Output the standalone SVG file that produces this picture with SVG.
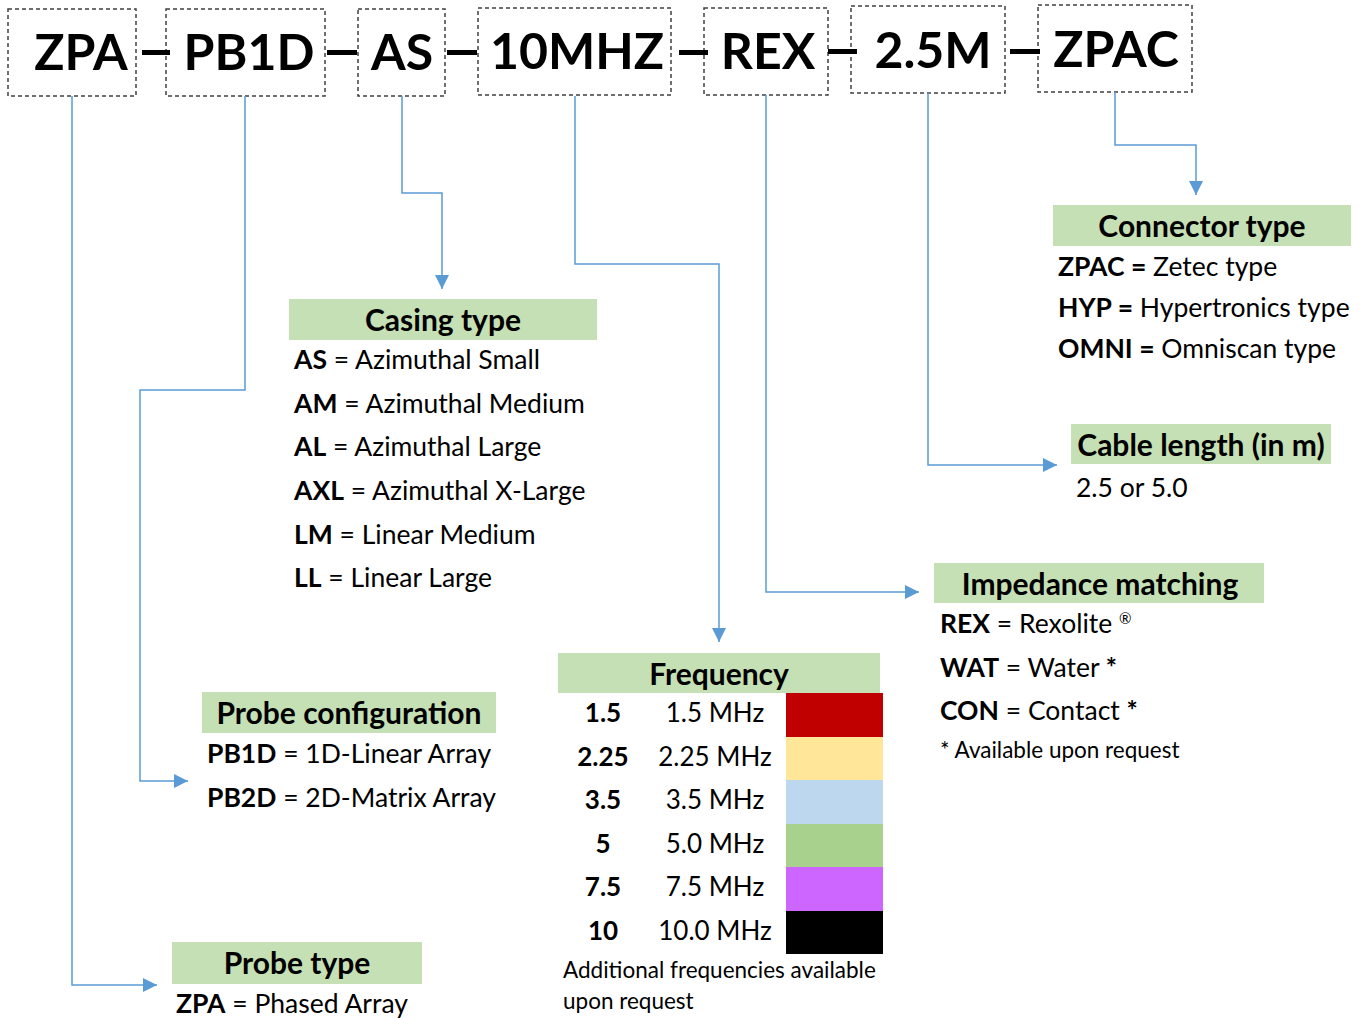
<svg xmlns="http://www.w3.org/2000/svg" width="1361" height="1019" viewBox="0 0 1361 1019">
<defs>
<marker id="arr" markerWidth="14" markerHeight="14" refX="14" refY="7" orient="auto" markerUnits="userSpaceOnUse">
<path d="M0,0 L14,7 L0,14 Z" fill="#5B9BD5"/>
</marker>
<style>
text{font-family:Lato,"Open Sans","Liberation Sans",sans-serif;fill:#000}
.code{font-size:50px;font-weight:700;text-anchor:middle}
.dash{fill:#000}
.box{fill:none;stroke:#404040;stroke-width:1.5;stroke-dasharray:4 3}
.hdr{fill:#C5E0B4}
.ttl{font-size:30px;font-weight:700;text-anchor:middle}
.body{font-size:26.5px}
.b{font-weight:700}
.small{font-size:22.5px}
.conn{fill:none;stroke:#5B9BD5;stroke-width:1.5;marker-end:url(#arr)}
.fb{font-size:26px;font-weight:700;text-anchor:middle}
.fm{font-size:26px;text-anchor:middle}
</style>
</defs>
<rect width="1361" height="1019" fill="#fff"/>

<g id="code">
<g id="box-zpa"><rect class="box" x="8" y="9" width="128" height="87"/><text class="code" x="81" y="70">ZPA</text></g>
<g id="box-pb1d"><rect class="box" x="166" y="9" width="159" height="87"/><text class="code" x="249" y="70">PB1D</text></g>
<g id="box-as"><rect class="box" x="358" y="9" width="87" height="87"/><text class="code" x="402" y="70">AS</text></g>
<g id="box-10mhz"><rect class="box" x="478" y="8" width="193" height="87"/><text class="code" x="577" y="69">10MHZ</text></g>
<g id="box-rex"><rect class="box" x="704" y="8" width="124" height="87"/><text class="code" x="768" y="69">REX</text></g>
<g id="box-25m"><rect class="box" x="851" y="6" width="154" height="87"/><text class="code" x="933" y="68">2.5M</text></g>
<g id="box-zpac"><rect class="box" x="1038" y="5" width="154" height="87"/><text class="code" x="1116" y="67">ZPAC</text></g>
<g id="dashes">
<rect class="dash" x="142" y="50" width="28" height="5"/>
<rect class="dash" x="327" y="50" width="30" height="5"/>
<rect class="dash" x="447" y="50" width="30" height="5"/>
<rect class="dash" x="679" y="50" width="29" height="5"/>
<rect class="dash" x="828" y="49" width="29" height="5"/>
<rect class="dash" x="1010" y="49" width="30" height="5"/>
</g>
</g>

<g id="connectors">
<polyline class="conn" points="72,96 72,985 157,985"/>
<polyline class="conn" points="245,96 245,390 140,390 140,781 188,781"/>
<polyline class="conn" points="402,96 402,193 442,193 442,289"/>
<polyline class="conn" points="575,96 575,264 719,264 719,642"/>
<polyline class="conn" points="766,95 766,592 919,592"/>
<polyline class="conn" points="928,93 928,465 1057,465"/>
<polyline class="conn" points="1115,92 1115,145 1196,145 1196,195"/>
</g>

<g id="connector-type">
<rect class="hdr" x="1053" y="205" width="298" height="41"/>
<text class="ttl" x="1202" y="237">Connector type</text>
<text class="body" x="1058" y="276"><tspan class="b">ZPAC =</tspan> Zetec type</text>
<text class="body" x="1058" y="317"><tspan class="b">HYP =</tspan> Hypertronics type</text>
<text class="body" x="1058" y="358"><tspan class="b">OMNI =</tspan> Omniscan type</text>
</g>

<g id="casing-type">
<rect class="hdr" x="289" y="299" width="308" height="41"/>
<text class="ttl" x="443" y="331">Casing type</text>
<text class="body" x="294" y="369"><tspan class="b">AS</tspan> = Azimuthal Small</text>
<text class="body" x="294" y="413"><tspan class="b">AM</tspan> = Azimuthal Medium</text>
<text class="body" x="294" y="456"><tspan class="b">AL</tspan> = Azimuthal Large</text>
<text class="body" x="294" y="500"><tspan class="b">AXL</tspan> = Azimuthal X-Large</text>
<text class="body" x="294" y="544"><tspan class="b">LM</tspan> = Linear Medium</text>
<text class="body" x="294" y="587"><tspan class="b">LL</tspan> = Linear Large</text>
</g>

<g id="cable-length">
<rect class="hdr" x="1071" y="424" width="260" height="40"/>
<text class="ttl" x="1201" y="456">Cable length (in m)</text>
<text class="body" x="1076" y="497">2.5 or 5.0</text>
</g>

<g id="impedance-matching">
<rect class="hdr" x="934" y="563" width="330" height="40"/>
<text class="ttl" x="1100" y="595">Impedance matching</text>
<text class="body" x="940" y="633"><tspan class="b">REX</tspan> = Rexolite <tspan font-size="15" dy="-9">®</tspan></text>
<text class="body" x="940" y="677"><tspan class="b">WAT</tspan> = Water <tspan class="b">*</tspan></text>
<text class="body" x="940" y="720"><tspan class="b">CON</tspan> = Contact <tspan class="b">*</tspan></text>
<text class="small" x="940" y="758">* Available upon request</text>
</g>

<g id="frequency">
<rect class="hdr" x="558" y="653" width="322" height="40"/>
<text class="ttl" x="719" y="685">Frequency</text>
<rect x="786" y="693" width="97" height="44" fill="#C00000"/>
<rect x="786" y="737" width="97" height="43" fill="#FFE699"/>
<rect x="786" y="780" width="97" height="44" fill="#BDD7EE"/>
<rect x="786" y="824" width="97" height="43" fill="#A9D18E"/>
<rect x="786" y="867" width="97" height="44" fill="#CC66FF"/>
<rect x="786" y="911" width="97" height="43" fill="#000000"/>
<text class="fb" x="603" y="722">1.5</text><text class="fm" x="715" y="722">1.5 MHz</text>
<text class="fb" x="603" y="766">2.25</text><text class="fm" x="715" y="766">2.25 MHz</text>
<text class="fb" x="603" y="809">3.5</text><text class="fm" x="715" y="809">3.5 MHz</text>
<text class="fb" x="603" y="853">5</text><text class="fm" x="715" y="853">5.0 MHz</text>
<text class="fb" x="603" y="896">7.5</text><text class="fm" x="715" y="896">7.5 MHz</text>
<text class="fb" x="603" y="940">10</text><text class="fm" x="715" y="940">10.0 MHz</text>
<text class="small" x="563" y="978">Additional frequencies available</text>
<text class="small" x="563" y="1009">upon request</text>
</g>

<g id="probe-configuration">
<rect class="hdr" x="202" y="692" width="294" height="41"/>
<text class="ttl" x="349" y="724">Probe configuration</text>
<text class="body" x="207" y="763"><tspan class="b">PB1D</tspan> = 1D-Linear Array</text>
<text class="body" x="207" y="807"><tspan class="b">PB2D</tspan> = 2D-Matrix Array</text>
</g>

<g id="probe-type">
<rect class="hdr" x="172" y="942" width="250" height="42"/>
<text class="ttl" x="297" y="974">Probe type</text>
<text class="body" x="176" y="1013"><tspan class="b">ZPA</tspan> = Phased Array</text>
</g>
</svg>
